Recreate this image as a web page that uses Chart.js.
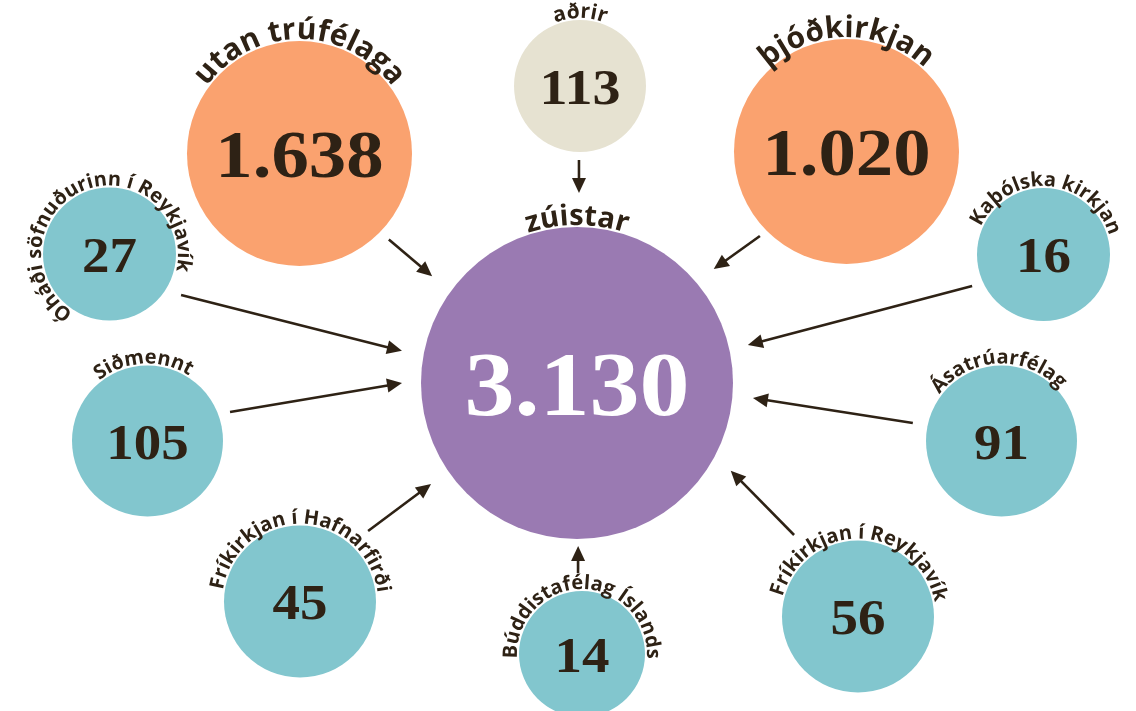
<!DOCTYPE html>
<html>
<head>
<meta charset="utf-8">
<script src="https://cdn.jsdelivr.net/npm/chart.js@4.4.0/dist/chart.umd.min.js"></script>
<style>
  html, body { margin: 0; padding: 0; background: #fff; }
  #wrap { width: 1136px; height: 711px; }
</style>
</head>
<body>
<div id="wrap"><canvas id="bubbles"></canvas></div>
<script>
// data: where the zúistar came from
const groups  = ['zúistar', 'utan trúfélaga', 'aðrir', 'þjóðkirkjan', 'Kaþólska kirkjan', 'Ásatrúarfélag',
                 'Fríkirkjan í Reykjavík', 'Búddistafélag Íslands', 'Fríkirkjan í Hafnarfirði', 'Siðmennt',
                 'Óháði söfnuðurinn í Reykjavík'];
const members = [3130, 1638, 113, 1020, 16, 91, 56, 14, 45, 105, 27];

// layout, in canvas pixels (the scales map 1:1 onto the canvas)
const posX   = [577, 299.5, 580, 846.5, 1043.5, 1001.5, 858, 582, 300, 147.5, 109.5];
const posY   = [383, 153.5, 86, 151.5, 254.5, 441, 616.5, 654, 601.5, 441, 254];
const radius = [156, 112.5, 66, 112.5, 66.5, 75.5, 76, 63, 76, 75.5, 66.5];
const kind   = ['hub', 'big', 'other', 'big', 'small', 'small', 'small', 'small', 'small', 'small', 'small'];
const fills  = { hub: '#9a7ab2', big: '#faa26f', other: '#e6e2d1', small: '#82c6ce' };
const numberSize = [91, 68, 51, 68, 50, 50, 50, 50, 50, 50, 50];
const labelSize  = [29, 30, 21, 30, 20, 20, 20, 20, 20, 20, 20];
const labelAngle = [-90, -90, -90, -90, -86, -92.5, -88, -90, -89, -93, -112];
// arrows: [angle on the small circle, gap], [angle on the hub, gap]
const arrowFrom = [null, [43.9, 11.5], [90.8, 8], [135.7, 8.5], [156.2, 11.5], [-168.5, 15],
                   [-128.1, 27.6], [-92.8, 18], [-46, 22], [-19.4, 12], [29.8, 16]];
const arrowTo   = [null, [-143.6, 24], [-89.4, 34], [-39.8, 22], [-12.5, 19], [4.9, 20.6],
                   [29.7, 21], [89.6, 7], [145.3, 21.5], [180, 19], [-169.6, 22]];

const ink = '#2e2215';

function fmt(n) {
    return String(n).replace(/\B(?=(\d{3})+(?!\d))/g, '.');
}

function polar(cx, cy, rad, deg) {
    const a = deg * Math.PI / 180;
    return [cx + rad * Math.cos(a), cy + rad * Math.sin(a)];
}

function arrow(ctx, x1, y1, x2, y2) {
    const ang = Math.atan2(y2 - y1, x2 - x1);
    const head = 15, half = 7;
    const bx = x2 - head * Math.cos(ang), by = y2 - head * Math.sin(ang);
    ctx.beginPath();
    ctx.moveTo(x1, y1);
    ctx.lineTo(bx + 2 * Math.cos(ang), by + 2 * Math.sin(ang));
    ctx.stroke();
    ctx.beginPath();
    ctx.moveTo(x2, y2);
    ctx.lineTo(bx + half * Math.sin(ang), by - half * Math.cos(ang));
    ctx.lineTo(bx - half * Math.sin(ang), by + half * Math.cos(ang));
    ctx.closePath();
    ctx.fill();
}

function arcText(ctx, text, cx, cy, rad, centerDeg) {
    const chars = [...text];
    const widths = chars.map(c => ctx.measureText(c).width);
    const total = ctx.measureText(text).width;
    const k = total / widths.reduce((s, w) => s + w, 0);
    let a = centerDeg * Math.PI / 180 - total / rad / 2;
    chars.forEach((c, i) => {
        const w = widths[i] * k;
        const mid = a + w / 2 / rad;
        ctx.save();
        ctx.translate(cx + rad * Math.cos(mid), cy + rad * Math.sin(mid));
        ctx.rotate(mid + Math.PI / 2);
        ctx.fillText(c, 0, 0);
        ctx.restore();
        a += w / rad;
    });
}

const overlay = {
    id: 'overlay',
    afterDatasetsDraw(chart) {
        const ctx = chart.ctx;
        const pts = chart.getDatasetMeta(0).data;
        const hub = pts[0];
        ctx.save();
        ctx.strokeStyle = ink;
        ctx.fillStyle = ink;
        ctx.lineWidth = 2.6;
        pts.forEach((p, i) => {
            if (!arrowFrom[i]) return;
            const [sx, sy] = polar(p.x, p.y, radius[i] + arrowFrom[i][1], arrowFrom[i][0]);
            const [ex, ey] = polar(hub.x, hub.y, radius[0] + arrowTo[i][1], arrowTo[i][0]);
            arrow(ctx, sx, sy, ex, ey);
        });

        pts.forEach((p, i) => {
            // the count in the middle, a little wider than the plain face
            ctx.font = 'bold ' + numberSize[i] + 'px "Liberation Serif", "DejaVu Serif", serif';
            ctx.textAlign = 'center';
            ctx.textBaseline = 'alphabetic';
            ctx.fillStyle = i === 0 ? '#ffffff' : ink;
            const asc = ctx.measureText('0').actualBoundingBoxAscent;
            ctx.save();
            ctx.translate(p.x, p.y + asc / 2 + 1);
            ctx.scale(1.1, 1);
            ctx.fillText(fmt(members[i]), 0, 0);
            ctx.restore();

            // the name bent round the top of the circle
            ctx.font = 'bold ' + labelSize[i] + 'px "Open Sans", sans-serif';
            ctx.fillStyle = ink;
            arcText(ctx, groups[i], p.x, p.y, radius[i] + 2, labelAngle[i]);
        });
        ctx.restore();
    }
};

const ctx = document.getElementById('bubbles').getContext('2d');
const chart = new Chart(ctx, {
    type: 'bubble',
    data: {
        labels: groups,
        datasets: [{
            data: groups.map((g, i) => ({ x: posX[i], y: posY[i], r: radius[i] })),
            backgroundColor: kind.map(k => fills[k]),
            borderWidth: 0,
            hoverBorderWidth: 0,
            clip: false
        }]
    },
    options: {
        responsive: true,
        maintainAspectRatio: false,
        animation: false,
        events: [],
        layout: { padding: 0, autoPadding: false },
        scales: {
            x: { type: 'linear', min: 0, max: 1136, display: false },
            y: { type: 'linear', min: 0, max: 711, reverse: true, display: false }
        },
        plugins: {
            legend: { display: false },
            tooltip: { enabled: false }
        }
    },
    plugins: [overlay]
});
</script>
</body>
</html>
